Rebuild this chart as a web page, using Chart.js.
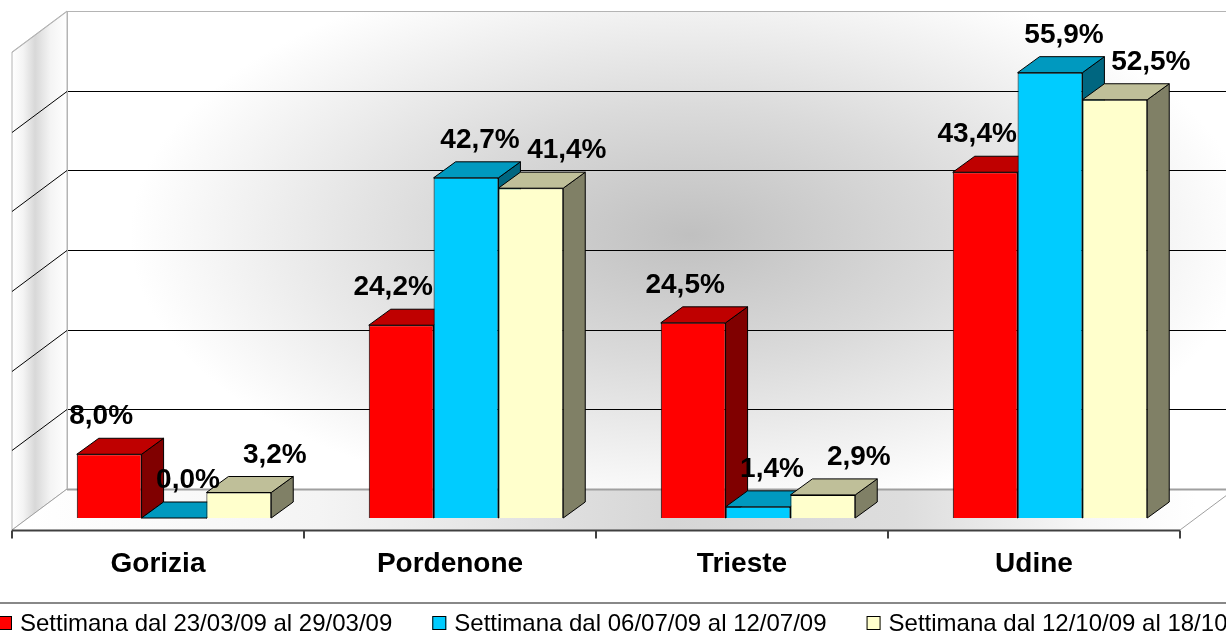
<!DOCTYPE html>
<html>
<head>
<meta charset="utf-8">
<script src="https://cdn.jsdelivr.net/npm/chart.js@4.4.0/dist/chart.umd.min.js"></script>
<style>
html, body { margin: 0; padding: 0; background: #fff; overflow: hidden; }
#wrap { position: relative; width: 1226px; height: 635px; }
</style>
</head>
<body>
<div id="wrap"><canvas id="myChart" width="1226" height="635"></canvas></div>
<script>
// data
const categories = ['Gorizia', 'Pordenone', 'Trieste', 'Udine'];
const seriesLabels = [
    'Settimana dal 23/03/09 al 29/03/09',
    'Settimana dal 06/07/09 al 12/07/09',
    'Settimana dal 12/10/09 al 18/10/09'
];
const week1 = [8.0, 24.2, 24.5, 43.4];
const week2 = [0.0, 42.7, 1.4, 55.9];
const week3 = [3.2, 41.4, 2.9, 52.5];
const yTicks = [0, 10, 20, 30, 40, 50, 60];

// colours: front, top, side faces
const frontColors = ['#FF0000', '#00CCFF', '#FFFFCC'];
const topColors = ['#BF0000', '#0099BF', '#BFBF99'];
const sideColors = ['#800000', '#006680', '#808066'];

// 3d offsets, relative to the plane of the bar fronts
const depth = { wallX: 39, wallY: -29, floorX: -16, floorY: 12, barX: 22, barY: -16 };

function poly(ctx, pts, fill, stroke) {
    ctx.beginPath();
    ctx.moveTo(pts[0][0], pts[0][1]);
    for (let i = 1; i < pts.length; i++) ctx.lineTo(pts[i][0], pts[i][1]);
    ctx.closePath();
    if (fill) { ctx.fillStyle = fill; ctx.fill(); }
    if (stroke) { ctx.strokeStyle = stroke; ctx.lineWidth = 1; ctx.stroke(); }
}

function fmt(v) {
    return v.toFixed(1).replace('.', ',') + '%';
}

const scene3d = {
    id: 'scene3d',
    beforeDatasetsDraw(chart) {
        const ctx = chart.ctx;
        const xs = chart.scales.x, ys = chart.scales.y;
        const L = chart.chartArea.left, R = chart.chartArea.right;
        const T = ys.getPixelForValue(yTicks[yTicks.length - 1]);
        const B = ys.getPixelForValue(0);
        const d = depth;
        ctx.save();

        // back wall with soft grey centre
        const bx0 = L + d.wallX, bx1 = R + d.wallX, by0 = T + d.wallY, by1 = B + d.wallY;
        ctx.fillStyle = '#fff';
        ctx.fillRect(bx0, by0, bx1 - bx0, by1 - by0);
        ctx.save();
        ctx.beginPath();
        ctx.rect(bx0, by0, bx1 - bx0, by1 - by0);
        ctx.clip();
        ctx.translate(690, 235);
        ctx.scale(1, 0.5);
        const rg = ctx.createRadialGradient(0, 0, 0, 0, 0, 560);
        rg.addColorStop(0, '#C0C0C0');
        rg.addColorStop(0.45, '#DADADA');
        rg.addColorStop(1, '#FFFFFF');
        ctx.fillStyle = rg;
        ctx.fillRect(-800, -800, 1600, 1600);
        ctx.restore();

        // left wall
        const lg = ctx.createLinearGradient(L + d.floorX, 0, L + d.wallX, 0);
        lg.addColorStop(0, '#FFFFFF');
        lg.addColorStop(0.2, '#F4F4F4');
        lg.addColorStop(0.42, '#D8D8D8');
        lg.addColorStop(0.7, '#F4F4F4');
        lg.addColorStop(1, '#FFFFFF');
        poly(ctx, [[L + d.floorX, T + d.floorY], [bx0, by0], [bx0, by1], [L + d.floorX, B + d.floorY]], lg, '#B4B4B4');

        // floor
        const fg = ctx.createLinearGradient(L, 0, R, 0);
        fg.addColorStop(0, '#FFFFFF');
        fg.addColorStop(0.25, '#F4F4F4');
        fg.addColorStop(0.55, '#D6D6D6');
        fg.addColorStop(0.75, '#DDDDDD');
        fg.addColorStop(0.9, '#F6F6F6');
        fg.addColorStop(1, '#FFFFFF');
        poly(ctx, [[L + d.floorX, B + d.floorY], [R + d.floorX, B + d.floorY], [bx1, by1], [bx0, by1]], fg, null);
        ctx.strokeStyle = '#A0A0A0';
        ctx.beginPath();
        ctx.moveTo(L + d.floorX, B + d.floorY); ctx.lineTo(bx0, by1);
        ctx.moveTo(R + d.floorX, B + d.floorY); ctx.lineTo(bx1, by1);
        ctx.stroke();

        // gridlines on back and left walls
        yTicks.forEach(v => {
            const y = Math.round(ys.getPixelForValue(v));
            ctx.strokeStyle = v === 0 ? '#A0A0A0' : (v === yTicks[yTicks.length - 1] ? '#B4B4B4' : '#000');
            ctx.lineWidth = v === 0 ? 2 : 1;
            ctx.beginPath();
            ctx.moveTo(bx0, y + d.wallY + 0.5);
            ctx.lineTo(bx1, y + d.wallY + 0.5);
            ctx.stroke();
            ctx.lineWidth = 1;
            ctx.strokeStyle = v === yTicks[yTicks.length - 1] ? '#B4B4B4' : '#000';
            if (v !== 0) {
                ctx.beginPath();
                ctx.moveTo(L + d.floorX, y + d.floorY + 0.5);
                ctx.lineTo(bx0, y + d.wallY + 0.5);
                ctx.stroke();
            }
        });
        ctx.strokeStyle = '#B4B4B4';
        ctx.beginPath();
        ctx.moveTo(bx0 + 0.5, by0); ctx.lineTo(bx0 + 0.5, by1);
        ctx.stroke();

        // category axis on the front edge of the floor
        const ay = Math.round(B + d.floorY) + 0.5;
        ctx.strokeStyle = '#404040';
        ctx.lineWidth = 2;
        ctx.beginPath();
        ctx.moveTo(L + d.floorX, ay); ctx.lineTo(R + d.floorX, ay);
        const step = (R - L) / categories.length;
        for (let i = 0; i <= categories.length; i++) {
            const tx = Math.round(L + d.floorX + i * step);
            ctx.moveTo(tx, ay); ctx.lineTo(tx, ay + 8);
        }
        ctx.stroke();

        ctx.fillStyle = '#000';
        ctx.font = 'bold 28px "Liberation Sans", Arial, sans-serif';
        ctx.textAlign = 'center';
        ctx.textBaseline = 'alphabetic';
        categories.forEach((c, i) => {
            ctx.fillText(c, xs.getPixelForValue(i) + d.floorX, 572);
        });

        // sides and tops of the bars, back faces first
        chart.data.datasets.forEach((ds, di) => {
            const meta = chart.getDatasetMeta(di);
            meta.data.forEach(el => {
                const x0 = el.x - el.width / 2, x1 = el.x + el.width / 2;
                const top = el.y, base = el.base;
                poly(ctx, [[x1, top], [x1 + d.barX, top + d.barY], [x1 + d.barX, base + d.barY], [x1, base]], sideColors[di], '#000');
                poly(ctx, [[x0, top], [x1, top], [x1 + d.barX, top + d.barY], [x0 + d.barX, top + d.barY]], topColors[di], '#000');
            });
        });
        ctx.restore();
    },
    afterDatasetsDraw(chart) {
        const ctx = chart.ctx;
        const n = chart.data.datasets.length;
        ctx.save();
        ctx.fillStyle = '#000';
        ctx.font = 'bold 28px "Liberation Sans", Arial, sans-serif';
        ctx.textAlign = 'center';
        ctx.textBaseline = 'alphabetic';
        chart.data.datasets.forEach((ds, di) => {
            // labels fan out a little, as in the 3d projection
            const spread = depth.barX / 2 + (di - (n - 1) / 2) * depth.barX;
            chart.getDatasetMeta(di).data.forEach((el, i) => {
                ctx.fillText(fmt(ds.data[i]), el.x + spread + 3, el.y + depth.barY - 14);
            });
        });
        ctx.restore();
    },
    afterDraw(chart) {
        const ctx = chart.ctx;
        ctx.save();
        ctx.strokeStyle = '#888';
        ctx.lineWidth = 2;
        ctx.beginPath();
        ctx.moveTo(0, 603); ctx.lineTo(chart.width, 603);
        ctx.stroke();
        ctx.font = '24px "Liberation Sans", Arial, sans-serif';
        ctx.textAlign = 'left';
        ctx.textBaseline = 'alphabetic';
        ctx.lineWidth = 1;
        let x = -2;
        chart.data.datasets.forEach((ds, di) => {
            ctx.fillStyle = frontColors[di];
            ctx.fillRect(x, 616, 14, 14);
            ctx.strokeStyle = '#000';
            ctx.strokeRect(x + 0.5, 616.5, 13, 13);
            ctx.fillStyle = '#000';
            ctx.fillText(ds.label, x + 22, 631);
            x += 22 + ctx.measureText(ds.label).width + 40;
        });
        ctx.restore();
    }
};

const ctx = document.getElementById('myChart').getContext('2d');
const chart = new Chart(ctx, {
    type: 'bar',
    data: {
        labels: categories,
        datasets: [week1, week2, week3].map((vals, i) => ({
            label: seriesLabels[i],
            data: vals,
            backgroundColor: frontColors[i],
            borderColor: '#000',
            borderWidth: 1,
            categoryPercentage: 0.666,
            barPercentage: 1
        }))
    },
    options: {
        responsive: false,
        animation: false,
        devicePixelRatio: 1,
        events: [],
        layout: { padding: { left: 28, right: 30, top: 40, bottom: 117 } },
        plugins: { legend: { display: false }, tooltip: { enabled: false } },
        scales: {
            x: { display: false },
            y: { display: false, min: 0, max: 60, ticks: { stepSize: 10 } }
        }
    },
    plugins: [scene3d]
});
</script>
</body>
</html>
